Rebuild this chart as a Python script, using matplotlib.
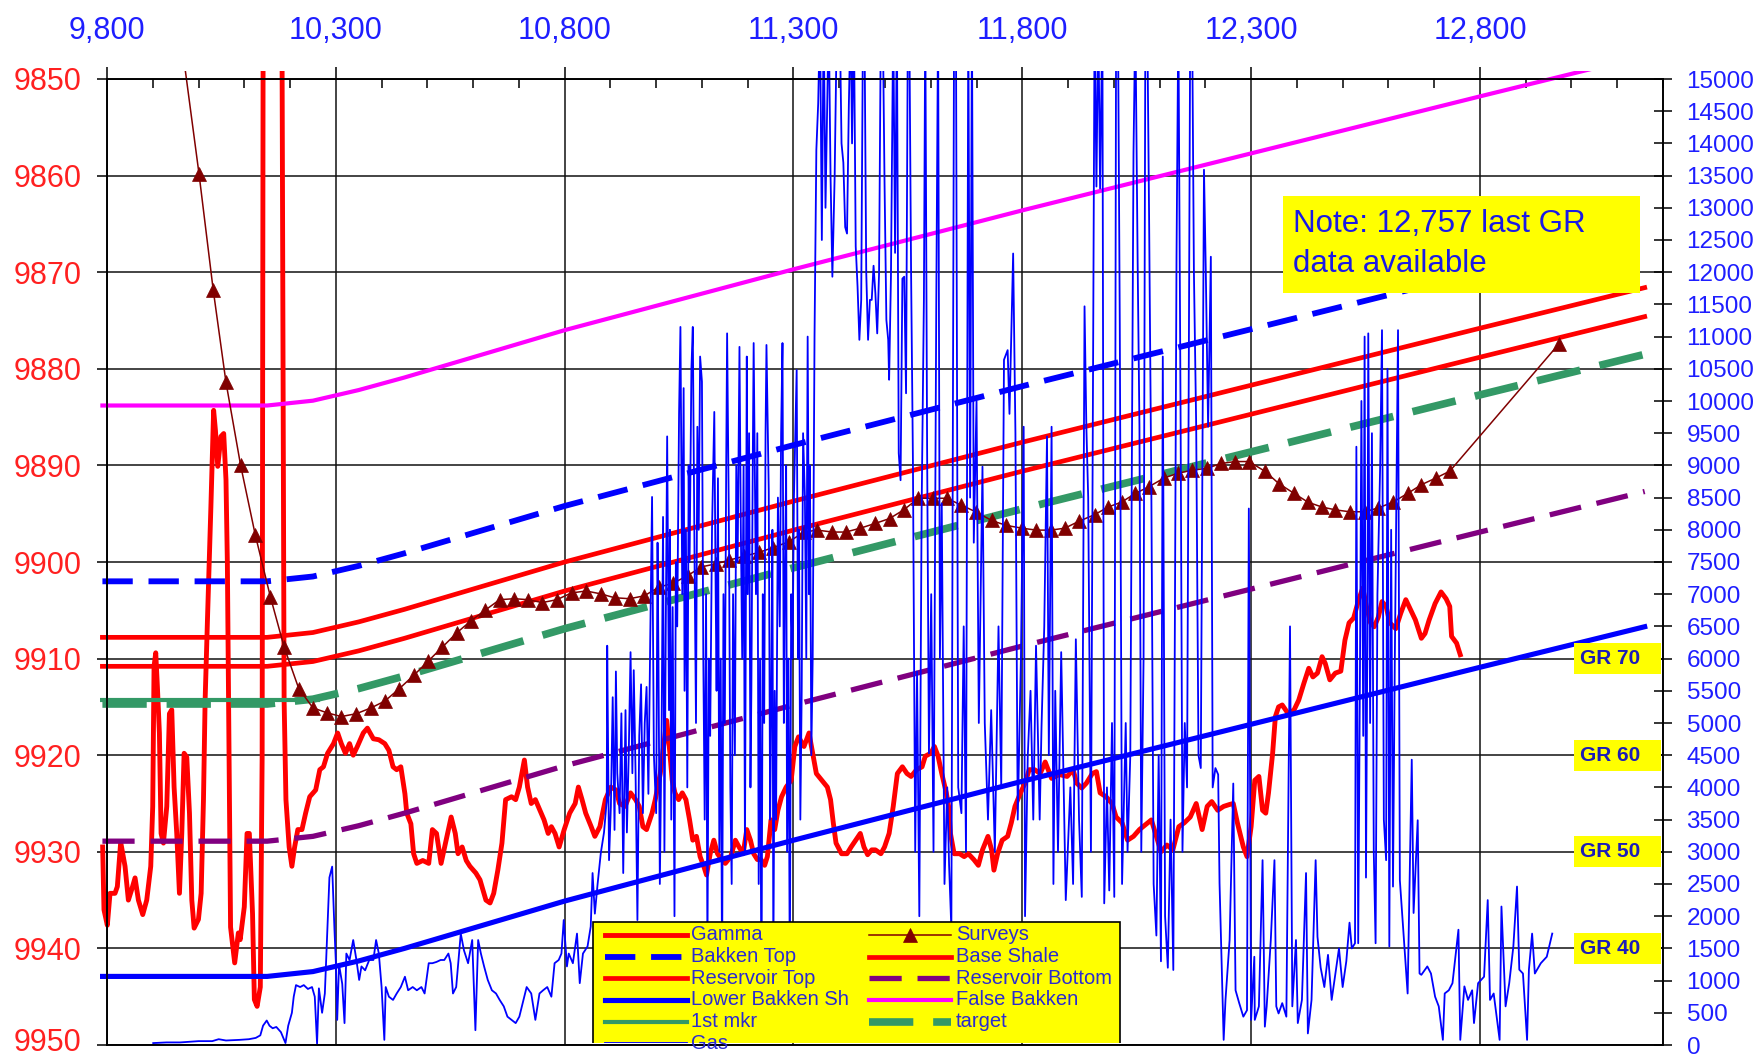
import matplotlib
matplotlib.use("Agg")
import matplotlib.pyplot as plt
import numpy as np
from matplotlib.patches import Rectangle
from matplotlib.lines import Line2D
from matplotlib.ticker import MultipleLocator, FuncFormatter
from matplotlib.transforms import blended_transform_factory, ScaledTranslation

plt.rcParams['font.family'] = ['Liberation Sans', 'DejaVu Sans']

# ---------------------------------------------------------------- data
# formation tops (TVD) at measured-depth stations
md_stations = [9790, 10150, 10250, 10350, 10450, 10550, 10650, 10800, 11300, 11800, 12300, 12800, 13160]
false_bakken = [9883.8, 9883.8, 9883.3, 9882.2, 9880.9, 9879.5, 9878.1, 9876.0, 9869.7, 9863.6, 9857.7, 9851.8, 9847.6]
base_shale = [9907.8, 9907.8, 9907.3, 9906.2, 9904.9, 9903.5, 9902.1, 9900.0, 9893.7, 9887.6, 9881.7, 9875.8, 9871.6]
reservoir_top = [9910.8, 9910.8, 9910.3, 9909.2, 9907.9, 9906.5, 9905.1, 9903.0, 9896.7, 9890.6, 9884.7, 9878.8, 9874.6]
target = [9914.7, 9914.7, 9914.2, 9913.1, 9911.8, 9910.4, 9909.0, 9906.9, 9900.6, 9894.5, 9888.6, 9882.7, 9878.5]
reservoir_bottom = [9928.9, 9928.9, 9928.4, 9927.3, 9926.0, 9924.6, 9923.2, 9921.1, 9914.8, 9908.7, 9902.8, 9896.9, 9892.7]
lower_bakken_sh = [9942.9, 9942.9, 9942.4, 9941.3, 9940.0, 9938.6, 9937.2, 9935.1, 9928.8, 9922.7, 9916.8, 9910.9, 9906.7]

# Bakken top is carried only to the last projection point
bakken_top_md = [9790, 10150, 10250, 10350, 10450, 10550, 10650, 10800, 11300, 11800, 12300, 12800, 13120]
bakken_top = [9902.0, 9902.0, 9901.5, 9900.4, 9899.1, 9897.7, 9896.3, 9894.2, 9887.9, 9881.8, 9875.9, 9870.0, 9866.3]

first_mkr_md = [9790, 10260]
first_mkr_tvd = [9914.3, 9914.3]

# survey stations (MD, TVD)
survey_md = [9940, 10001, 10032, 10060, 10092, 10124, 10157, 10187, 10219, 10250, 10280, 10312, 10345,
             10377, 10407, 10439, 10471, 10501, 10533, 10565, 10595, 10626, 10658, 10690, 10720, 10751,
             10783, 10815, 10847, 10879, 10909, 10942, 10974, 11006, 11037, 11069, 11099, 11130, 11160,
             11192, 11225, 11256, 11290, 11323, 11352, 11385, 11414, 11446, 11479, 11510, 11541, 11573,
             11604, 11635, 11666, 11698, 11733, 11764, 11799, 11831, 11862, 11893, 11923, 11958, 11988,
             12017, 12047, 12077, 12110, 12141, 12171, 12203, 12235, 12265, 12295, 12330, 12361, 12394,
             12424, 12454, 12484, 12515, 12548, 12578, 12610, 12642, 12672, 12704, 12734, 12973]
survey_tvd = [9838.0, 9859.8, 9871.8, 9881.4, 9890.0, 9897.2, 9903.6, 9908.8, 9913.1, 9915.1, 9915.6, 9916.0, 9915.7,
              9915.1, 9914.4, 9913.1, 9911.7, 9910.3, 9908.8, 9907.3, 9906.1, 9905.0, 9903.9, 9903.8, 9903.9, 9904.2,
              9903.9, 9903.2, 9903.0, 9903.3, 9903.7, 9903.8, 9903.5, 9902.6, 9902.2, 9901.4, 9900.5, 9900.2, 9899.8,
              9899.4, 9899.0, 9898.5, 9897.9, 9896.9, 9896.7, 9896.9, 9896.9, 9896.5, 9896.0, 9895.5, 9894.6, 9893.4,
              9893.4, 9893.4, 9894.1, 9894.8, 9895.7, 9896.2, 9896.5, 9896.7, 9896.7, 9896.5, 9895.8, 9895.1, 9894.3,
              9893.8, 9892.9, 9892.2, 9891.3, 9890.8, 9890.5, 9890.3, 9889.8, 9889.6, 9889.6, 9890.6, 9891.9, 9892.9,
              9893.8, 9894.3, 9894.6, 9894.8, 9894.8, 9894.4, 9893.8, 9892.9, 9892.0, 9891.3, 9890.6, 9877.4]

# gamma ray (API) along MD; plotted on the depth scale as GR_DATUM - GR
GR_DATUM = 9980
gamma_md = [9790.5, 9793.4, 9800.7, 9806.6, 9817.5, 9822.6, 9829.9, 9839.4, 9846.7, 9854.0, 9861.3, 9868.6,
            9878.1, 9886.8, 9895.6, 9899.9, 9902.8, 9906.5, 9910.1, 9914.5, 9918.2, 9923.3, 9930.6, 9936.4,
            9941.5, 9946.6, 9952.4, 9958.3, 9963.4, 9968.5, 9974.3, 9980.2, 9985.3, 9990.4, 9999.8, 10005.7,
            10010.8, 10014.4, 10019.5, 10027, 10033, 10037, 10042, 10049, 10055, 10060, 10063, 10070, 10079,
            10087, 10091, 10100, 10106, 10111, 10118, 10122, 10128, 10135, 10139, 10143, 10178, 10187, 10191,
            10198, 10204, 10210, 10217, 10226, 10234, 10243, 10256, 10265, 10273, 10282, 10295, 10304, 10312,
            10321, 10330, 10338, 10347, 10360, 10369, 10382, 10394, 10407, 10416, 10425, 10433, 10442, 10451,
            10455, 10464, 10470, 10477, 10490, 10503, 10511, 10520, 10530, 10541, 10552, 10561, 10567, 10576,
            10585, 10593, 10606, 10615, 10628, 10637, 10645, 10654, 10663, 10671, 10684, 10693, 10701, 10712,
            10719, 10727, 10736, 10746, 10755, 10764, 10771, 10779, 10788, 10799, 10811, 10823, 10830, 10838,
            10846, 10858, 10866, 10877, 10889, 10901, 10912, 10920, 10932, 10944, 10955, 10963, 10971, 10979,
            10991, 10998, 11009, 11018, 11023, 11030, 11035, 11041, 11049, 11057, 11065, 11073, 11080, 11088,
            11096, 11104, 11110, 11118, 11126, 11134, 11143, 11151, 11163, 11173, 11181, 11190, 11198, 11206,
            11213, 11221, 11229, 11237, 11243, 11251, 11259, 11266, 11274, 11284, 11295, 11303, 11311, 11323,
            11334, 11342, 11350, 11362, 11374, 11381, 11387, 11393, 11405, 11417, 11426, 11436, 11446, 11454,
            11462, 11471, 11479, 11491, 11499, 11509, 11518, 11527, 11538, 11548, 11557, 11569, 11581, 11588,
            11600, 11608, 11616, 11624, 11634, 11639, 11643, 11651, 11663, 11673, 11682, 11694, 11704, 11713,
            11725, 11733, 11738, 11746, 11756, 11768, 11776, 11784, 11796, 11806, 11815, 11827, 11839, 11850,
            11864, 11881, 11898, 11911, 11919, 11930, 11940, 11953, 11962, 11970, 11983, 11996, 12005, 12018,
            12030, 12043, 12056, 12069, 12082, 12093, 12103, 12116, 12129, 12142, 12154, 12167, 12180, 12193,
            12204, 12214, 12227, 12240, 12253, 12261, 12270, 12283, 12291, 12300, 12308, 12317, 12325, 12332,
            12338, 12347, 12353, 12360, 12368, 12381, 12394, 12404, 12415, 12426, 12435, 12445, 12455, 12462,
            12472, 12484, 12496, 12505, 12514, 12524, 12535, 12544, 12552, 12561, 12569, 12578, 12586, 12595,
            12603, 12616, 12627, 12638, 12649, 12659, 12672, 12680, 12689, 12702, 12715, 12726, 12734, 12738,
            12749, 12757]
gamma_api = [50.5, 44.0, 42.4, 45.7, 45.7, 46.4, 51.0, 48.5, 45.0, 46.1, 47.3, 45.0,
             43.5, 45.0, 48.5, 54.7, 69.2, 70.6, 67.1, 62.3, 51.9, 50.9, 54.7, 64.3,
             64.7, 56.7, 51.9, 45.7, 51.9, 60.2, 59.8, 54.0, 45.0, 42.1, 43.0, 45.7,
             55.4, 65.7, 74.0, 85.7, 95.7, 93.6, 89.9, 93.0, 93.3, 88.5, 79.9, 42.2, 38.5,
             41.6, 40.9, 44.3, 51.9, 51.9, 43.6, 34.7, 34.0, 36.0, 59.8, 200.0, 200.0, 65.7, 55.4,
             50.5, 48.5, 50.5, 52.3, 52.3, 54.0, 55.7, 56.4, 58.5, 58.8, 60.2, 61.2, 62.3, 61.2,
             60.2, 61.2, 60.0, 60.9, 62.3, 62.8, 61.7, 61.6, 61.2, 60.5, 58.8, 58.5, 58.8, 56.0,
             54.0, 52.9, 49.8, 48.8, 49.1, 48.8, 52.3, 51.9, 48.8, 51.2, 53.6, 51.9, 49.8, 50.5,
             49.1, 48.5, 47.8, 47.1, 45.0, 44.7, 45.7, 48.1, 50.9, 55.4, 55.7, 55.4, 56.7, 59.5,
             56.7, 55.0, 55.4, 54.3, 53.3, 51.9, 52.6, 51.9, 50.5, 52.3, 54.0, 55.0, 56.7, 55.4,
             54.0, 52.6, 51.6, 52.6, 55.4, 56.7, 56.4, 55.0, 54.7, 56.1, 55.4, 54.7, 52.6, 52.3,
             54.0, 55.4, 58.1, 61.6, 63.6, 60.2, 57.4, 56.1, 55.4, 56.1, 55.4, 53.3, 51.2, 51.6,
             49.5, 48.5, 47.6, 49.8, 51.2, 49.8, 49.2, 48.8, 49.5, 51.2, 50.5, 49.8, 52.3, 51.2,
             49.8, 49.2, 49.2, 48.6, 49.5, 53.3, 52.3, 54.3, 55.7, 56.7, 57.4, 60.9, 61.9, 60.9,
             62.3, 60.2, 58.1, 57.4, 56.7, 55.4, 53.0, 50.9, 49.8, 49.8, 50.5, 51.2, 51.9, 50.5,
             49.7, 50.2, 50.2, 49.8, 50.5, 51.9, 54.7, 58.1, 58.8, 58.1, 57.8, 58.5, 58.8, 59.9,
             60.2, 60.9, 59.9, 58.1, 56.1, 54.7, 51.9, 49.8, 49.8, 49.5, 49.8, 49.2, 48.6, 50.2,
             51.6, 50.2, 48.1, 49.8, 51.2, 51.6, 53.0, 54.7, 56.1, 57.1, 58.5, 58.5, 58.1, 59.3,
             57.6, 58.0, 57.8, 58.5, 57.1, 56.6, 57.1, 58.1, 58.3, 56.1, 55.7, 55.0, 53.6, 53.0,
             51.2, 51.6, 52.3, 52.8, 53.3, 51.6, 50.0, 50.7, 50.2, 52.6, 53.0, 53.6, 55.0, 52.3,
             54.7, 55.2, 54.3, 54.7, 54.9, 55.0, 53.0, 50.5, 49.5, 52.6, 57.4, 57.8, 54.3, 54.0,
             56.1, 60.2, 64.0, 65.0, 65.2, 64.3, 64.7, 65.7, 67.4, 69.0, 68.1, 68.5, 70.2, 69.5,
             67.8, 68.5, 68.7, 71.9, 73.7, 74.2, 76.1, 77.3, 75.4, 73.7, 73.3, 74.3, 75.9, 75.4,
             73.7, 73.1, 74.7, 76.1, 75.0, 74.0, 72.1, 72.6, 74.0, 75.7, 76.9, 76.2, 75.4, 72.3,
             71.6, 70.4]

# total gas (units) along MD, right-hand scale
gas_md = [9901, 9930, 9960, 10000, 10030, 10044, 10060, 10090, 10110, 10125, 10135, 10141, 10149, 10155,
          10162, 10170, 10180, 10190, 10196, 10204, 10208, 10213, 10222, 10230, 10239, 10248, 10254, 10259,
          10263, 10270, 10276, 10282, 10286, 10292, 10297, 10300, 10303, 10307, 10314, 10319, 10323, 10330,
          10338, 10345, 10351, 10356, 10364, 10373, 10382, 10388, 10394, 10400, 10406, 10409, 10416, 10425,
          10433, 10442, 10451, 10458, 10468, 10477, 10487, 10494, 10503, 10511, 10520, 10529, 10537, 10546,
          10551, 10556, 10563, 10573, 10580, 10589, 10598, 10605, 10611, 10617, 10624, 10632, 10641, 10650,
          10658, 10667, 10675, 10684, 10693, 10701, 10710, 10717, 10727, 10736, 10745, 10753, 10762, 10771,
          10778, 10787, 10793, 10798, 10805, 10809, 10818, 10827, 10833, 10840, 10850, 10857, 10861, 10866,
          10872, 10879, 10886, 10892, 10893, 10897, 10901, 10905, 10909, 10912, 10915, 10920, 10924, 10928,
          10933, 10936, 10940, 10944, 10948, 10951, 10955, 10959, 10963, 10967, 10971, 10975, 10979, 10983,
          10987, 10991, 10995, 11000, 11003, 11005, 11008, 11012, 11015, 11018, 11021, 11024, 11028, 11030,
          11033, 11036, 11040, 11043, 11046, 11050, 11053, 11057, 11060, 11062, 11065, 11068, 11071, 11073,
          11077, 11080, 11084, 11087, 11090, 11093, 11096, 11100, 11103, 11106, 11109, 11112, 11115, 11118,
          11122, 11127, 11130, 11132, 11135, 11138, 11141, 11144, 11147, 11150, 11153, 11155, 11159, 11162,
          11165, 11168, 11172, 11175, 11178, 11182, 11185, 11188, 11191, 11194, 11198, 11200, 11203, 11206,
          11208, 11211, 11213, 11218, 11221, 11224, 11227, 11230, 11233, 11236, 11239, 11241, 11246, 11249,
          11251, 11254, 11256, 11259, 11262, 11266, 11270, 11273, 11276, 11279, 11281, 11284, 11286, 11289,
          11292, 11295, 11298, 11301, 11304, 11307, 11310, 11312, 11315, 11318, 11321, 11325, 11328, 11331,
          11334, 11336, 11339, 11342,
          11346, 11350, 11354, 11358, 11362, 11366, 11370, 11377, 11381, 11385, 11390,
          11395, 11401, 11405, 11409, 11413, 11417, 11421, 11425, 11428, 11432, 11436, 11440, 11444, 11448,
          11452, 11455, 11459, 11463, 11467, 11471, 11475, 11479, 11483, 11487, 11491, 11495, 11499, 11503,
          11507, 11509, 11513, 11518, 11522, 11526, 11530, 11534, 11538, 11542, 11546, 11550, 11553, 11557,
          11561, 11566, 11570, 11575, 11580, 11585, 11588, 11592, 11596, 11601, 11606, 11612, 11616, 11620,
          11624, 11630, 11636, 11640, 11645, 11651, 11655, 11660, 11667, 11672, 11677, 11682, 11686, 11690,
          11694, 11700, 11705, 11713, 11718, 11725, 11732, 11740, 11748, 11754, 11760, 11768, 11772, 11780,
          11785, 11790, 11797, 11803, 11806, 11812, 11818, 11824, 11830, 11838, 11842, 11848, 11854, 11858,
          11864, 11868, 11872, 11878, 11885, 11895, 11905, 11911, 11917, 11924, 11930, 11936, 11940, 11944,
          11950, 11958, 11962, 11966, 11970, 11975, 11979, 11985, 11990, 11996, 12001, 12005, 12009, 12013,
          12018, 12026, 12030, 12036, 12043, 12047, 12052, 12056, 12060, 12065, 12069, 12073, 12077, 12082,
          12087, 12093, 12098, 12103, 12107, 12112, 12118, 12124, 12130, 12137, 12141, 12146, 12150, 12155,
          12160, 12167, 12171, 12175, 12180, 12185, 12190, 12197, 12201, 12206, 12212, 12216, 12222, 12228,
          12231, 12240, 12244, 12253, 12261, 12266, 12274, 12283, 12291, 12295, 12300, 12307, 12308, 12317,
          12325, 12330, 12334, 12343, 12351, 12355, 12360, 12368, 12377, 12385, 12390, 12398, 12402, 12411,
          12420, 12424, 12432, 12441, 12445, 12452, 12460, 12468, 12476, 12484, 12492, 12500, 12508, 12515,
          12520, 12527, 12530, 12534, 12538, 12541, 12545, 12548, 12551, 12554, 12556, 12560, 12564, 12568,
          12572, 12576, 12582, 12586, 12590, 12595, 12598, 12602, 12606, 12610, 12614, 12621, 12625, 12642,
          12651, 12655, 12664, 12668, 12672, 12685, 12693, 12702, 12710, 12719, 12723, 12732, 12740, 12753,
          12757, 12766, 12774, 12783, 12787, 12796, 12809, 12817, 12822, 12830, 12843, 12847, 12856, 12864,
          12873, 12881, 12886, 12894, 12903, 12907, 12914, 12920, 12933, 12946, 12958]
gas_units = [30, 40, 40, 60, 60, 90, 70, 80, 90, 110, 150, 300, 380, 300,
             260, 280, 200, 30, 300, 500, 750, 930, 900, 930, 870, 900, 750, 20,
             880, 500, 800, 1900, 2600, 2770, 1800, 1300, 390, 1250, 950, 340, 1420, 1320,
             1630, 1320, 1010, 1220, 1160, 1320, 1320, 1630, 1420, 900, 80, 900, 750, 700,
             800, 900, 1060, 850, 900, 850, 900, 800, 1270, 1270, 1290, 1320, 1320, 1420,
             1270, 800, 900, 1730, 1470, 1270, 1630, 230, 1630, 1420, 1220, 1010, 850, 800,
             700, 600, 440, 390, 340, 440, 700, 900, 800, 390, 800, 850, 900, 750,
             1270, 1320, 1420, 1940, 1220, 1420, 1270, 1730, 960, 1420, 1530, 1840, 2670, 2040,
             2500, 2980, 3300, 3800, 6200, 2870, 3700, 5400, 3340, 5800, 4220, 3600, 5150, 2670,
             5200, 3300, 4500, 6100, 4220, 5820, 4200, 1940, 4800, 5600, 3600, 5000, 5560, 3900,
             6290, 8510, 4500, 3600, 7800, 6000, 2500, 5000, 8200, 3000, 6500, 9450, 5200, 8000,
             3500, 6800, 2000, 7500, 6500, 9800, 11150, 7000, 10200, 5500, 8000, 4000, 9000, 7500,
             10500, 11150, 7400, 5000, 9600, 8000, 10690, 10300, 6000, 3500, 7000, 1400, 6000, 4800,
             8000, 9830, 7000, 5500, 8800, 3000, 6000, 1000, 7000, 5000, 9000, 11050, 8000, 4000,
             2500, 7000, 4500, 9000, 7500, 10840, 8000, 6000, 9000, 3000, 10690, 7000, 9500, 4000,
             5500, 9000, 10900, 7000, 9500, 2500, 6000, 500, 7000, 5000, 9500, 10870, 8600, 3500,
             5000, 8000, 1200, 5500, 3500, 8500, 6500, 9500, 10900, 5000, 7000, 9000, 3000, 6000,
             1000, 7000, 6000, 8500, 9500, 10480, 6000, 8000, 3500, 5500, 9500, 8500, 6000, 11000,
             7000, 9000, 4500, 6000,
             11000, 13900, 14620, 16000, 12500, 16000, 13000, 16000, 13500, 11930, 13500,
             16000, 16000, 14000, 13700, 12700, 12600, 14600, 16000, 14000, 16000, 12400, 11780, 10950, 11570,
             16000, 16000, 12000, 10950, 11570, 11570, 12100, 11670, 11050, 11980, 16000, 16000, 13380, 11260,
             10950, 10330, 11930, 16000, 12300, 16000, 9190, 8770, 11900, 11930, 10120, 16000, 16000, 12000,
             9080, 3000, 5800, 2000, 8300, 11570, 16000, 9290, 4530, 7000, 3000, 11470, 16000, 6000,
             8410, 2500, 4000, 2800, 1800, 16000, 16000, 4000, 3600, 6500, 3000, 16000, 8500, 16000,
             7800, 10000, 5000, 8980, 5000, 3500, 5200, 3000, 6500, 4000, 10640, 10790, 9800, 12290,
             9500, 3500, 6000, 9600, 2000, 4500, 5500, 3500, 6200, 3500, 4940, 6500, 9450, 4500,
             9600, 2500, 5500, 3000, 6100, 2250, 4000, 2500, 6300, 3500, 2300, 11470, 9600, 8500,
             3000, 16000, 13330, 16000, 13300, 16000, 2200, 4000, 2400, 5000, 2300, 16000, 16000, 11200,
             2500, 5000, 3000, 4500, 13850, 16000, 12190, 9600, 3000, 6000, 16000, 16000, 12910, 8600,
             2500, 1700, 4500, 1300, 10690, 2000, 1200, 3500, 1165, 12240, 16000, 9600, 3000, 5000,
             4000, 16000, 16000, 12000, 9600, 4500, 4300, 13590, 12000, 9600, 12240, 4000, 4300, 4200,
             2510, 80, 700, 1630, 4060, 850, 650, 440, 540, 8330, 390, 1370, 390, 600,
             2870, 285, 600, 1630, 2870, 600, 490, 650, 440, 6500, 600, 1630, 340, 700,
             2670, 180, 700, 2870, 1680, 1200, 900, 1400, 700, 1100, 1500, 900, 1300, 1900,
             1500, 1580, 9290, 1580, 6000, 10000, 4800, 11000, 2600, 6300, 11050, 5000, 9500, 3000,
             1580, 7000, 9000, 11100, 3500, 2870, 10500, 1530, 8000, 2460, 6000, 11100, 2560, 800,
             4430, 2050, 3490, 1110, 1090, 1220, 1110, 750, 600, 80, 800, 850, 960, 1790,
             80, 910, 700, 850, 340, 960, 1060, 2250, 700, 800, 80, 2150, 600, 960,
             1530, 2460, 1170, 1110, 80, 1170, 1730, 1110, 1270, 1370, 1730]

gr_reference = [70, 60, 50, 40]
top_tick_md = list(range(9800, 13201, 500))
note_lines = ["Note: 12,757 last GR", "data available"]

# ---------------------------------------------------------------- styles
styles = {
    'Gamma': dict(color='#FF0000', lw=3.5),
    'Surveys': dict(color='#800000', lw=1.1),
    'Bakken Top': dict(color='#0000FF', lw=4.2, ls=(0, (5.2, 2.7))),
    'Base Shale': dict(color='#FF0000', lw=3.4),
    'Reservoir Top': dict(color='#FF0000', lw=3.4),
    'Reservoir Bottom': dict(color='#800080', lw=3.8, ls=(0, (6.1, 3.0))),
    'Lower Bakken Sh': dict(color='#0000FF', lw=3.7),
    'False Bakken': dict(color='#FF00FF', lw=3.0),
    '1st mkr': dict(color='#339966', lw=3.0),
    'target': dict(color='#339966', lw=5.5, ls=(0, (5.8, 2.6))),
    'Gas': dict(color='#0000FF', lw=1.3),
}
survey_marker = dict(marker='^', ms=10, mfc='#800000', mec='#800000', mew=0.5)

BLUE_TXT = '#1E1EFF'
RED_TXT = '#FF2020'

# ---------------------------------------------------------------- figure
fig = plt.figure(figsize=(17.62, 10.59), dpi=100)
ax = fig.add_axes([107 / 1762, 14 / 1059, 1556 / 1762, 966 / 1059])
ax.set_xlim(9800, 13200)
ax.set_ylim(9950, 9850)
ax2 = ax.twinx()
ax2.set_ylim(0, 15000)


def plot_clip(a):
    return Rectangle((-0.0045, -0.002), 1.009, 1.0106, transform=a.transAxes,
                     facecolor='none', edgecolor='none')


def depth_of_gr(g):
    return GR_DATUM - np.asarray(g, dtype=float)


def draw(a, x, y, name, z, **extra):
    ln, = a.plot(x, y, zorder=z, **styles[name], **extra)
    ln.set_clip_path(plot_clip(a))
    return ln


draw(ax, gamma_md, depth_of_gr(gamma_api), 'Gamma', 2.0)
draw(ax, bakken_top_md, bakken_top, 'Bakken Top', 2.2)
draw(ax, md_stations, base_shale, 'Base Shale', 2.3)
draw(ax, md_stations, reservoir_top, 'Reservoir Top', 2.4)
draw(ax, md_stations, reservoir_bottom, 'Reservoir Bottom', 2.5)
draw(ax, md_stations, lower_bakken_sh, 'Lower Bakken Sh', 2.6)
draw(ax, md_stations, false_bakken, 'False Bakken', 2.7)
draw(ax, first_mkr_md, first_mkr_tvd, '1st mkr', 2.8)
draw(ax, md_stations, target, 'target', 2.9)
draw(ax, survey_md, survey_tvd, 'Surveys', 3.0, **survey_marker)
draw(ax2, gas_md, gas_units, 'Gas', 2.0)

# ---------------------------------------------------------------- axes styling
ax.set_axisbelow(True)
ax.grid(True, which='major', color='#111111', lw=1.1)
for a in (ax, ax2):
    for sp in a.spines.values():
        sp.set_linewidth(1.2)
        sp.set_color('black')

ax.xaxis.set_ticks_position('top')
ax.set_xticks(top_tick_md)
ax.xaxis.set_major_formatter(FuncFormatter(lambda v, p: f'{v:,.0f}'))
ax.xaxis.set_minor_locator(MultipleLocator(100))
ax.tick_params(axis='x', which='major', direction='out', length=8.6, width=1.1,
               pad=15.5, labelsize=22, labelcolor=BLUE_TXT, top=True, bottom=False)
ax.tick_params(axis='x', which='minor', direction='in', length=6.5, width=1.1,
               top=True, bottom=False)
ax.set_yticks(np.arange(9850, 9951, 10))
ax.tick_params(axis='y', direction='out', length=7.2, width=1.1, pad=11,
               labelsize=22, labelcolor=RED_TXT)
ax2.set_yticks(np.arange(0, 15001, 500))
ax2.tick_params(axis='y', direction='inout', length=12.7, width=1.1, pad=10.6,
                labelsize=17.5, labelcolor=BLUE_TXT)

# keep the lowest depth label inside the canvas
fig.canvas.draw()
lowest = ax.get_yticklabels()[-1]
lowest.set_transform(lowest.get_transform() + ScaledTranslation(0, 4 / 72, fig.dpi_scale_trans))

# ---------------------------------------------------------------- GR scale labels
gr_tr = blended_transform_factory(ax2.transAxes, ax.transData)
for g in gr_reference:
    yc = float(depth_of_gr(g))
    ax2.add_patch(Rectangle((0.9425, yc - 1.6), 0.056, 3.2, transform=gr_tr,
                            facecolor='#FFFF00', edgecolor='none', zorder=8))
    ax2.text(0.9468, yc, f'GR {g}', transform=gr_tr, ha='left', va='center',
             fontsize=15, fontweight='bold', color='#1C1CB8', zorder=9)

# ---------------------------------------------------------------- note box
ax2.add_patch(Rectangle((0.756, 0.7782), 0.2292, 0.101, transform=ax2.transAxes,
                        facecolor='#FFFF00', edgecolor='none', zorder=8))
ax2.text(0.7622, 0.8419, note_lines[0], transform=ax2.transAxes, ha='left',
         va='baseline', fontsize=22.5, color='#1A1AE6', zorder=9)
ax2.text(0.7622, 0.8005, note_lines[1], transform=ax2.transAxes, ha='left',
         va='baseline', fontsize=22.5, color='#1A1AE6', zorder=9)

# ---------------------------------------------------------------- legend (cut by the plot frame)
leg_clip = Rectangle((0.305, 0.0025), 0.355, 0.135, transform=ax2.transAxes,
                     facecolor='none', edgecolor='none')
box = Rectangle((0.3123, -0.03), 0.3387, 0.1573, transform=ax2.transAxes,
                facecolor='#FFFF00', edgecolor='black', lw=1.2, zorder=10)
ax2.add_patch(box)
box.set_clip_path(leg_clip)

legend_rows = [('Gamma', 'Surveys'), ('Bakken Top', 'Base Shale'),
               ('Reservoir Top', 'Reservoir Bottom'), ('Lower Bakken Sh', 'False Bakken'),
               ('1st mkr', 'target'), ('Gas', None)]
row_y = [0.1139, 0.0914, 0.0691, 0.0466, 0.0241, 0.0017]
col_handle = [(0.3198, 0.3726), (0.4897, 0.5424)]
col_text = [0.3756, 0.5454]

for ry, row in zip(row_y, legend_rows):
    for ci, name in enumerate(row):
        if name is None:
            continue
        x0, x1 = col_handle[ci]
        h = Line2D([x0, x1], [ry, ry], transform=ax2.transAxes, zorder=11, **styles[name])
        ax2.add_line(h)
        h.set_clip_path(leg_clip)
        if name == 'Surveys':
            m = Line2D([(x0 + x1) / 2], [ry], transform=ax2.transAxes, zorder=11,
                       ls='none', **survey_marker)
            ax2.add_line(m)
            m.set_clip_path(leg_clip)
        t = ax2.text(col_text[ci], ry, name, transform=ax2.transAxes, ha='left',
                     va='center', fontsize=14.5, color='#2B2BD0', zorder=11)
        t.set_clip_path(leg_clip)

fig.savefig('out.png', dpi=100)
